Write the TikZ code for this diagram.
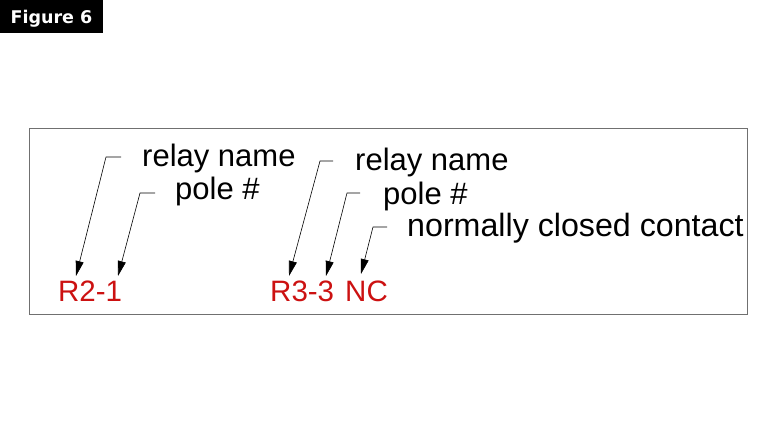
\documentclass[tikz,border=0pt]{standalone}
\usepackage{fontspec}
\setmainfont{Liberation Sans}
\newfontfamily\figfont{DejaVu Sans}
\usetikzlibrary{arrows.meta}
\definecolor{relayred}{HTML}{CC1111}
\definecolor{framegray}{HTML}{707070}
\tikzset{
  lbl/.style={anchor=base west, inner sep=0pt, font=\fontsize{31}{31}\selectfont},
  redlbl/.style={anchor=base west, inner sep=0pt, text=relayred, font=\fontsize{29.5}{29.5}\selectfont},
  leader/.style={draw=black, line width=0.6pt, -{Triangle[length=15pt,width=8pt]}},
}
\begin{document}
\begin{tikzpicture}[x=1pt,y=-1pt]
\useasboundingbox (0,0) rectangle (780,439);
\fill[white] (0,0) rectangle (780,439);
% title box
\fill[black] (0,0) rectangle (103,33);
\node[anchor=base, inner sep=0pt, text=white, font=\figfont\bfseries\fontsize{17.5}{17.5}\selectfont] (fig) at (51.5,23.5) {Figure 6};
% frame
\draw[framegray, line width=0.8pt] (29,128) rectangle (747,314) ;
% labels
\node[lbl] (rn1) at (142,166) {relay name};
\node[lbl] (pn1) at (175,199) {pole \#};
\node[lbl] (rn2) at (355,170) {relay name};
\node[lbl] (pn2) at (383,204) {pole \#};
\node[lbl, font=\fontsize{32.2}{32.2}\selectfont] (nc) at (407,236) {normally closed contact};
% red designators
\node[redlbl] (r21) at (58,301) {R2-1};
\node[redlbl] (r33) at (270,301) {R3-3};
\node[redlbl] (ncr) at (345,301) {NC};
% leader corner and start coordinates
\coordinate (s1) at (121,157); \coordinate (c1) at (106,157); \coordinate (t1) at (76,276);
\coordinate (s2) at (155,193); \coordinate (c2) at (140,193); \coordinate (t2) at (118,276);
\coordinate (s3) at (333,161); \coordinate (c3) at (320,161); \coordinate (t3) at (289,276);
\coordinate (s4) at (360,193); \coordinate (c4) at (347,193); \coordinate (t4) at (326,276);
\coordinate (s5) at (387,227); \coordinate (c5) at (373,227); \coordinate (t5) at (361,274);
\draw[leader] (s1) -- (c1) -- (t1);
\draw[leader] (s2) -- (c2) -- (t2);
\draw[leader] (s3) -- (c3) -- (t3);
\draw[leader] (s4) -- (c4) -- (t4);
\draw[leader] (s5) -- (c5) -- (t5);
\end{tikzpicture}
\end{document}
